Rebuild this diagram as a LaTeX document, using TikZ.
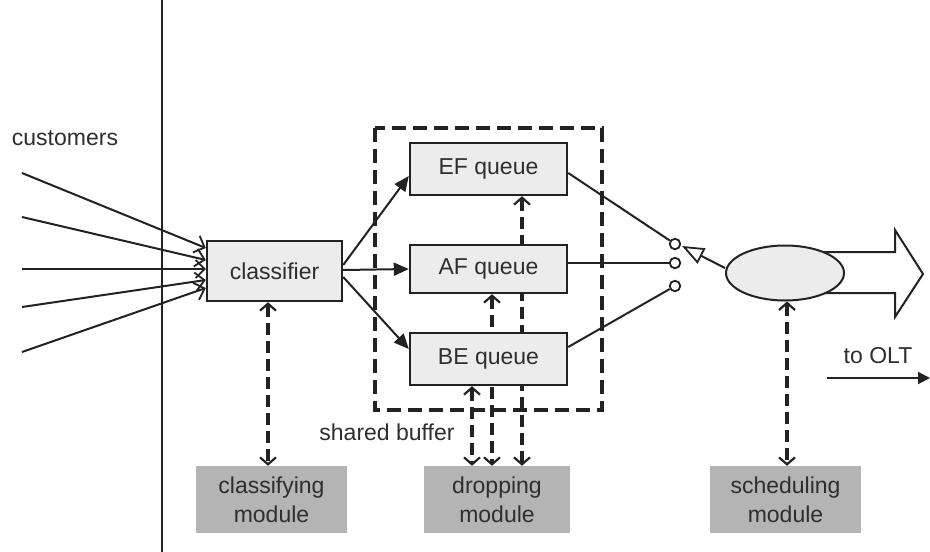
\documentclass[tikz,border=0pt]{standalone}
\usepackage{fontspec}
\setmainfont{Liberation Sans}
\usetikzlibrary{arrows.meta,shapes.geometric}
\pgfdeclarelayer{bg}
\pgfsetlayers{bg,main}
\definecolor{ink}{HTML}{222222}
\definecolor{txt}{HTML}{2E2E2E}
\definecolor{boxfill}{HTML}{ECECEC}
\definecolor{modfill}{HTML}{B4B4B4}
\begin{document}
\begin{tikzpicture}[x=1pt,y=-1pt,
  txtstyle/.style={text=txt,font=\fontsize{23}{27}\selectfont},
  qbox/.style={draw=ink,line width=2.4pt,fill=boxfill,rectangle,inner sep=0pt,txtstyle},
  modbox/.style={fill=modfill,rectangle,inner sep=0pt,align=center,text=txt,font=\fontsize{23}{29}\selectfont},
  solidln/.style={draw=ink,line width=2pt},
  inarrow/.style={solidln,-{Straight Barb[length=9pt,width=18pt,line width=1.8pt]}},
  farrow/.style={solidln,-{Triangle[length=15pt,width=13pt]}},
  dsh/.style={draw=ink,line width=3.6pt,dash pattern=on 12pt off 6pt,
     {Straight Barb[length=7pt,width=16pt,line width=2.2pt]}-{Straight Barb[length=7pt,width=16pt,line width=2.2pt]}},
  swcirc/.style={circle,draw=ink,line width=1.8pt,fill=white,minimum size=10.5pt,inner sep=0pt}
]
\useasboundingbox (0,0) rectangle (930,552);

% nodes
\node[txtstyle] (cust) at (65,138) {customers};
\node[qbox,minimum width=135pt,minimum height=60pt] (cl) at (274.5,271) {classifier};
\node[qbox,minimum width=157pt,minimum height=52pt] (ef) at (488.5,169) {EF queue};
\node[qbox,minimum width=157pt,minimum height=48pt] (af) at (488.5,269) {AF queue};
\node[qbox,minimum width=157pt,minimum height=52pt] (be) at (488.5,359) {BE queue};
\node[modbox,minimum width=151pt,minimum height=67pt] (cm) at (271.5,499.5) {classifying\\module};
\node[modbox,minimum width=146pt,minimum height=67pt] (dm) at (497,499.5) {dropping\\module};
\node[modbox,minimum width=151pt,minimum height=67pt] (sm) at (785.5,499.5) {scheduling\\module};
\node[txtstyle] (sb) at (387,432) {shared buffer};
\node[txtstyle] (olt) at (878,356) {to OLT};
\node[ellipse,draw=ink,line width=2pt,fill=boxfill,minimum width=118pt,minimum height=55pt,inner sep=0pt] (el) at (785,273) {};

\node[swcirc] (s1) at (675,244) {};
\node[swcirc] (s2) at (675,263) {};
\node[swcirc] (s3) at (675,286) {};

% coordinates
\coordinate (i1) at (22,173);
\coordinate (i2) at (22,217);
\coordinate (i3) at (22,269);
\coordinate (i4) at (22,307);
\coordinate (i5) at (22,352);
\coordinate (arm) at (682,246);
\coordinate (o1) at (827,378);
\coordinate (o2) at (930,378);
\coordinate (vt) at (162,0);
\coordinate (vb) at (162,552);

\draw[inarrow] (i1) -- ([yshift=23pt]cl.west);
\draw[inarrow] (i2) -- ([yshift=11pt]cl.west);
\draw[inarrow] (i3) -- ([yshift=2pt]cl.west);
\draw[inarrow] (i4) -- ([yshift=-9pt]cl.west);
\draw[inarrow] (i5) -- ([yshift=-17pt]cl.west);

% classifier to queues
\draw[farrow] ([yshift=6pt]cl.east) -- ([yshift=-7pt]ef.west);
\draw[farrow] ([yshift=1pt]cl.east) -- (af.west);
\draw[farrow] ([yshift=-6pt]cl.east) -- ([yshift=10pt]be.west);

% background layer
\begin{pgfonlayer}{bg}
  \fill[white] (0,0) rectangle (930,552);
  \draw[ink,line width=2pt] (vt) -- (vb);
  \draw[ink,line width=3.6pt,dash pattern=on 14pt off 7pt] (375,128) rectangle (602,410);
  \draw[dsh] ([xshift=-16.5pt]be.south) -- ([xshift=-16.5pt]be.south |- dm.north);
  \draw[dsh] ([xshift=3.5pt]af.south) -- ([xshift=3.5pt]af.south |- dm.north);
  \draw[dsh] ([xshift=33.5pt]ef.south) -- ([xshift=33.5pt]ef.south |- dm.north);
  \draw[solidln,fill=white,line join=miter] (790,252) -- (895,252) -- (895,230) -- (923,274) -- (895,317) -- (895,293) -- (790,293) -- cycle;
  \draw[solidln] ([yshift=-4pt]ef.east) -- (s1);
  \draw[solidln] ([yshift=6pt]af.east) -- (s2);
  \draw[solidln] ([yshift=12pt]be.east) -- (s3);
\end{pgfonlayer}

\draw[dsh] ([xshift=-6.5pt]cl.south) -- ([xshift=-6.5pt]cl.south |- cm.north);
\draw[dsh] ([xshift=2pt]el.south) -- ([xshift=2pt]el.south |- sm.north);

% switch arm
\draw[solidln,-{Triangle[open,length=22pt,width=17pt,line width=1.8pt]}] ([yshift=5pt]el.west) -- (arm);

% to OLT
\draw[solidln,-{Triangle[length=12pt,width=12pt]}] (o1) -- (o2);
\end{tikzpicture}
\end{document}
